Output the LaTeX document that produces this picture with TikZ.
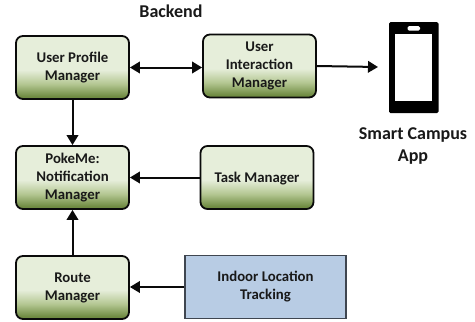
\documentclass[tikz,border=0pt]{standalone}
\usepackage{fontspec}
\setmainfont{Carlito}
\usetikzlibrary{arrows.meta,shadings}
\definecolor{gL}{HTML}{E6EEDA}
\definecolor{gM}{HTML}{B4C792}
\definecolor{gD}{HTML}{6F8B42}
\definecolor{inkc}{HTML}{0A0A0A}
\definecolor{blueb}{HTML}{B8CCE4}
\definecolor{blueline}{HTML}{3F4650}
\pgfdeclareverticalshading{gbox}{100bp}{color(0bp)=(gD); color(27bp)=(gD); color(37bp)=(gM); color(48bp)=(gL); color(100bp)=(gL)}
\tikzset{
  x=1pt,y=-1pt,
  greenbox/.style={draw=inkc,line width=1.8pt,rounded corners=7pt,shading=gbox,minimum width=113pt,minimum height=63pt,inner sep=0pt,align=center,font=\fontsize{14.8pt}{18pt}\selectfont\bfseries,text=black!90,execute at begin node={\rule{0pt}{12.5pt}}},
  bluebox/.style={draw=blueline,line width=1.8pt,fill=blueb,minimum width=161pt,minimum height=63pt,inner sep=0pt,align=center,font=\fontsize{14.8pt}{18pt}\selectfont\bfseries,text=black!90,execute at begin node={\rule{0pt}{12.5pt}}},
  titletext/.style={inner sep=0pt,align=center,font=\fontsize{18pt}{22pt}\selectfont\bfseries,text=black!90},
  conn/.style={line width=2pt,draw=inkc,-{Triangle[length=10pt,width=11.5pt,fill=inkc]}},
  conntwo/.style={line width=2pt,draw=inkc,{Triangle[length=10pt,width=11.5pt,fill=inkc]}-{Triangle[length=10pt,width=11.5pt,fill=inkc]}},
}
\begin{document}
\begin{tikzpicture}
\useasboundingbox (0,0) rectangle (475,322);
\fill[white] (0,0) rectangle (475,322);
\node[greenbox] (profile) at (72.5,67.5) {User Profile\\Manager};
\node[greenbox] (interact) at (259.5,66) {User\\Interaction\\Manager};
\node[greenbox] (poke) at (72.5,177.5) {PokeMe:\\Notification\\Manager};
\node[greenbox] (task) at (257,177.5) {Task Manager};
\node[greenbox] (route) at (72.5,287.5) {Route\\Manager};
\node[bluebox] (indoor) at (265.5,287) {Indoor Location\\Tracking};
\node[titletext] (backend) at (171,11) {Backend};
\node[titletext] (smart) at (413,146) {Smart Campus\\App};
% phone
\coordinate (phonearrow) at (378,67);
\fill[black,rounded corners=1.5pt] (389,22) rectangle (438.5,113);
\fill[white] (395,34) rectangle (432,100.5);
\fill[white,rounded corners=1.5pt] (407.5,26) rectangle (420,30.5);
% connectors
\draw[conntwo] (profile.east) -- (interact.west |- profile.east);
\draw[conn] (interact.east) -- (phonearrow);
\draw[conn] (profile.south) -- (poke.north);
\draw[conn] (task.west) -- (poke.east);
\draw[conn] (route.north) -- (poke.south);
\draw[conn] (indoor.west) -- (route.east |- indoor.west);
\end{tikzpicture}
\end{document}
